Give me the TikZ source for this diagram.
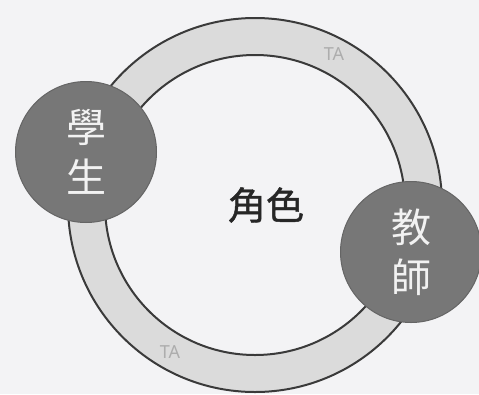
\documentclass[tikz,border=0pt]{standalone}
\usepackage{fontspec}
\setmainfont{Noto Sans}
\newfontfamily\cjk{Noto Sans CJK TC}
\newfontfamily\cjkfuerte[FakeBold=1.2]{Noto Sans CJK TC}
\usetikzlibrary{positioning}
\definecolor{fondo}{HTML}{F3F3F5}
\definecolor{anillo}{HTML}{DBDBDB}
\definecolor{borde}{HTML}{3A3A3A}
\definecolor{disco}{HTML}{777777}
\definecolor{letra}{HTML}{F2F2F2}
\definecolor{tenue}{HTML}{ADADAD}

\begin{document}
\begin{tikzpicture}[x=1pt, y=-1pt,
    rol/.style={circle, fill=disco, draw=disco!85!black, line width=1pt,
                minimum size=141pt, inner sep=0pt, align=center, text=letra,
                font=\cjk\fontsize{40}{50}\selectfont},
    etiqueta/.style={text=tenue, font=\fontsize{18}{18}\selectfont}]
    \fill[fondo] (0,0) rectangle (479,394);
    \useasboundingbox (0,0) rectangle (479,394);
    \coordinate (centro) at (255,205);
    \fill[anillo, even odd rule] (centro) circle[radius=187pt] (centro) circle[radius=150pt];
    \draw[borde, line width=2pt] (centro) circle[radius=187pt] (centro) circle[radius=150pt];
    \node[etiqueta] (ta arriba) at (334,54) {TA};
    \node[etiqueta] (ta abajo) at (170,352) {TA};
    \node[rol] (alumno) at (86,152) {學\\生};
    \node[rol] (docente) at (411,252) {教\\師};
    \node[font=\cjkfuerte\fontsize{38}{38}\selectfont, text=black!85] (tema) at (266,205) {角色};
  \end{tikzpicture}
\end{document}
